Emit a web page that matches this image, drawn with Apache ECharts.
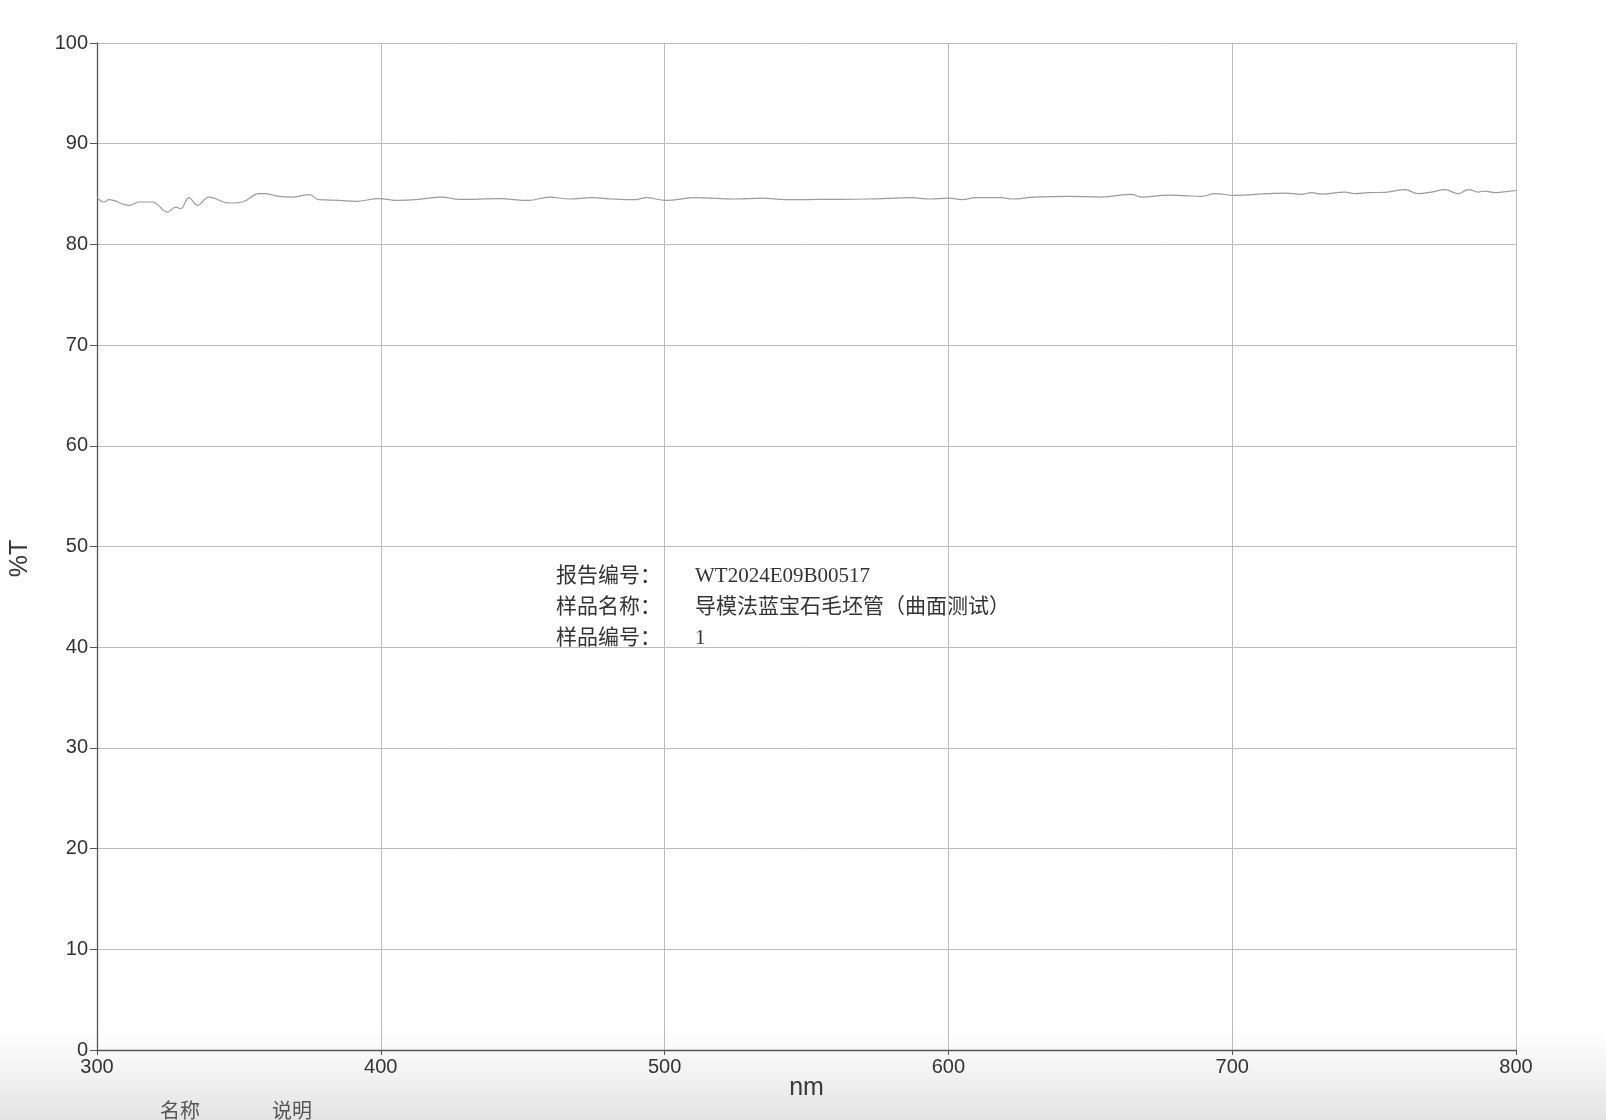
<!DOCTYPE html>
<html>
<head>
<meta charset="utf-8">
<script src="https://cdn.jsdelivr.net/npm/echarts@6/dist/echarts.min.js"></script>
<style>
html, body { margin: 0; padding: 0; }
#chart {
    width: 1606px; height: 1120px;
    background: linear-gradient(to bottom, #ffffff 0px, #ffffff 1030px, #f2f2f2 1075px, #e3e3e3 1120px);
}
</style>
</head>
<body>
<div id="chart"></div>
<script>
// 透过率曲线 (nm, %T)
var wavelength = [
    300, 302.5, 304.2, 311.3, 314.8, 319.5, 324.8, 327.7, 329.5, 332.4,
    335.4, 339.5, 346.5, 351.2, 357.1, 358.9, 364.1, 368.8, 374.7, 378.2,
    385.3, 391.1, 399.4, 406.4, 412.3, 421.7, 427.6, 441.7, 452.2, 459.3,
    466.3, 474.5, 481.6, 489.8, 493.4, 500.4, 510.9, 525, 534.4, 542.6,
    554.4, 572, 587.3, 593.2, 600.2, 604.9, 609.6, 619, 622.2, 630.4,
    642.2, 653.9, 664.5, 668, 677.4, 683.3, 689.2, 693.9, 700.9, 712.7,
    718.5, 724.4, 727.9, 731.4, 739.7, 743.2, 747.9, 753.8, 760.8, 765.5,
    770.2, 774.9, 779.6, 783.2, 786.7, 789, 792.5, 794.9, 800
];
var transmittance = [
    84.64, 84.21, 84.44, 83.88, 84.21, 84.21, 83.21, 83.71, 83.55, 84.64,
    83.88, 84.70, 84.11, 84.21, 85.04, 85.04, 84.77, 84.70, 84.94, 84.44,
    84.37, 84.28, 84.54, 84.37, 84.44, 84.70, 84.47, 84.54, 84.37, 84.70,
    84.51, 84.64, 84.51, 84.44, 84.64, 84.37, 84.64, 84.51, 84.60, 84.44,
    84.47, 84.51, 84.64, 84.51, 84.60, 84.44, 84.64, 84.64, 84.51, 84.70,
    84.77, 84.70, 84.97, 84.70, 84.90, 84.84, 84.77, 85.04, 84.87, 85.04,
    85.10, 84.97, 85.14, 85.00, 85.20, 85.04, 85.14, 85.17, 85.44, 85.04,
    85.20, 85.44, 85.04, 85.44, 85.20, 85.30, 85.14, 85.20, 85.35
];
var infoLabels = ['报告编号：', '样品名称：', '样品编号：'];
var infoValues = ['WT2024E09B00517', '导模法蓝宝石毛坯管（曲面测试）', '1'];
var footLabels = ['名称', '说明'];

var chart = echarts.init(document.getElementById('chart'));

var points = wavelength.map(function (w, i) { return [w, transmittance[i]]; });

var labelFont = "'Liberation Sans Narrow', 'Arial Narrow', 'Liberation Sans', sans-serif";
var cjkFont = "'Liberation Serif', 'Noto Sans CJK SC', serif";

var graphics = [];
infoLabels.forEach(function (t, i) {
    graphics.push({
        type: 'text', left: 556, top: 566 + i * 31,
        style: { text: t, font: '21px ' + cjkFont, fill: '#333' }
    });
    graphics.push({
        type: 'text', left: 695, top: 566 + i * 31,
        style: { text: infoValues[i], font: '21px ' + cjkFont, fill: '#333' }
    });
});
graphics.push({
    type: 'text', left: 160, top: 1103,
    style: { text: footLabels[0], font: '20px ' + cjkFont, fill: '#555' }
});
graphics.push({
    type: 'text', left: 272, top: 1103,
    style: { text: footLabels[1], font: '20px ' + cjkFont, fill: '#555' }
});

option = {
    animation: false,
    backgroundColor: 'transparent',
    grid: { left: 97, right: 90, top: 43, bottom: 70 },
    xAxis: {
        type: 'value',
        min: 300, max: 800, interval: 100,
        name: 'nm',
        nameLocation: 'middle',
        nameGap: 26,
        nameMoveOverlap: false,
        nameTextStyle: { fontSize: 25, color: '#3a3a3a', fontFamily: labelFont },
        axisLine: { onZero: false, lineStyle: { color: '#555', width: 1.3 } },
        axisTick: { show: true, length: 5, lineStyle: { color: '#555' } },
        axisLabel: { fontSize: 20, color: '#333', fontFamily: labelFont, margin: 7 },
        splitLine: { show: true, lineStyle: { color: '#bcbcbc', width: 1 } }
    },
    yAxis: {
        type: 'value',
        min: 0, max: 100, interval: 10,
        name: '%T',
        nameLocation: 'middle',
        nameRotate: 90,
        nameGap: 64,
        nameTextStyle: { fontSize: 25, color: '#3a3a3a', fontFamily: labelFont, padding: [0, 24, 0, 0] },
        axisLine: { show: true, lineStyle: { color: '#555', width: 1.3 } },
        axisTick: { show: true, length: 7, lineStyle: { color: '#555' } },
        axisLabel: { fontSize: 20, color: '#333', fontFamily: labelFont, margin: 9 },
        splitLine: { show: true, lineStyle: { color: '#bcbcbc', width: 1 } }
    },
    series: [{
        type: 'line',
        data: points,
        showSymbol: false,
        smooth: 0.4,
        lineStyle: { color: '#9c9c9c', width: 1.2 }
    }],
    graphic: graphics
};
chart.setOption(option);
</script>
</body>
</html>
